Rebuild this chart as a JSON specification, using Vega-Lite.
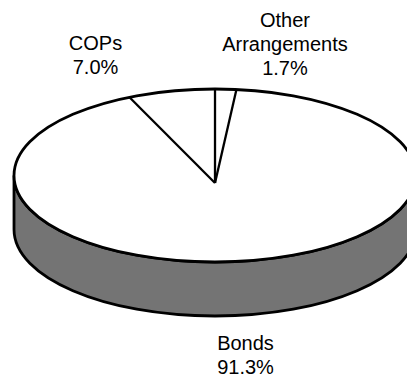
{
  "$schema": "https://vega.github.io/schema/vega-lite/v6.json",
  "width": 407,
  "height": 379,
  "autosize": "none",
  "padding": 0,
  "background": "white",
  "config": {"view": {"stroke": null}},
  "data": {
    "values": [
      {"segment": "Other Arrangements", "share": 1.7, "order": 1},
      {"segment": "Bonds", "share": 91.3, "order": 2},
      {"segment": "COPs", "share": 7.0, "order": 3}
    ]
  },
  "transform": [
    {"stack": "share", "groupby": [], "sort": [{"field": "order", "order": "ascending"}], "as": ["s0", "s1"]},
    {"calculate": "datum.s0 / 100 * 2 * PI", "as": "startAngle"},
    {"calculate": "sin(datum.startAngle)", "as": "bx"},
    {"calculate": "cos(datum.startAngle)", "as": "by"},
    {"calculate": "datum.segment + ' ' + format(datum.share, '.1f') + '%'", "as": "label"}
  ],
  "layer": [
    {
      "transform": [{"filter": "datum.segment === 'Bonds'"}],
      "mark": {
        "type": "point",
        "shape": "M-1,0L-1,0.2687C-1,0.5064,-0.5523,0.699,0,0.699C0.5523,0.699,1,0.5064,1,0.2687L1,0C1,0.2377,0.5523,0.4303,0,0.4303C-0.5523,0.4303,-1,0.2377,-1,0Z",
        "size": 161604,
        "filled": true,
        "fill": "#747474",
        "stroke": "black",
        "strokeWidth": 2.8,
        "opacity": 1
      },
      "encoding": {
        "x": {"datum": 0, "type": "quantitative", "scale": {"domain": [-1.0697, 0.9552], "nice": false, "zero": false}, "axis": null},
        "y": {"datum": 0, "type": "quantitative", "scale": {"domain": [-2.3526, 2.0289], "nice": false, "zero": false}, "axis": null}
      }
    },
    {
      "transform": [{"filter": "datum.segment === 'Bonds'"}],
      "mark": {
        "type": "point",
        "shape": "M-1,0C-1,-0.2377,-0.5523,-0.4303,0,-0.4303C0.5523,-0.4303,1,-0.2377,1,0C1,0.2377,0.5523,0.4303,0,0.4303C-0.5523,0.4303,-1,0.2377,-1,0Z",
        "size": 161604,
        "filled": true,
        "fill": "white",
        "stroke": "black",
        "strokeWidth": 2.8,
        "opacity": 1
      },
      "encoding": {
        "x": {"datum": 0, "type": "quantitative"},
        "y": {"datum": 0, "type": "quantitative"}
      }
    },
    {
      "mark": {"type": "rule", "stroke": "black", "strokeWidth": 2.3},
      "encoding": {
        "x": {"field": "bx", "type": "quantitative"},
        "y": {"field": "by", "type": "quantitative"},
        "x2": {"datum": 0},
        "y2": {"datum": -0.087}
      }
    },
    {
      "transform": [{"filter": "datum.segment === 'COPs'"}],
      "mark": {"type": "text", "font": "Liberation Sans", "fontSize": 20, "lineBreak": " ", "lineHeight": 24, "align": "center", "baseline": "alphabetic", "color": "black"},
      "encoding": {
        "x": {"datum": -0.5945, "type": "quantitative"},
        "y": {"datum": 1.451, "type": "quantitative"},
        "text": {"field": "label"}
      }
    },
    {
      "transform": [{"filter": "datum.segment === 'Other Arrangements'"}],
      "mark": {"type": "text", "font": "Liberation Sans", "fontSize": 20, "lineBreak": " ", "lineHeight": 24, "align": "center", "baseline": "alphabetic", "color": "black"},
      "encoding": {
        "x": {"datum": 0.348, "type": "quantitative"},
        "y": {"datum": 1.72, "type": "quantitative"},
        "text": {"field": "label"}
      }
    },
    {
      "transform": [{"filter": "datum.segment === 'Bonds'"}],
      "mark": {"type": "text", "font": "Liberation Sans", "fontSize": 20, "lineBreak": " ", "lineHeight": 24, "align": "center", "baseline": "alphabetic", "color": "black"},
      "encoding": {
        "x": {"datum": 0.1517, "type": "quantitative"},
        "y": {"datum": -2.017, "type": "quantitative"},
        "text": {"field": "label"}
      }
    }
  ]
}
